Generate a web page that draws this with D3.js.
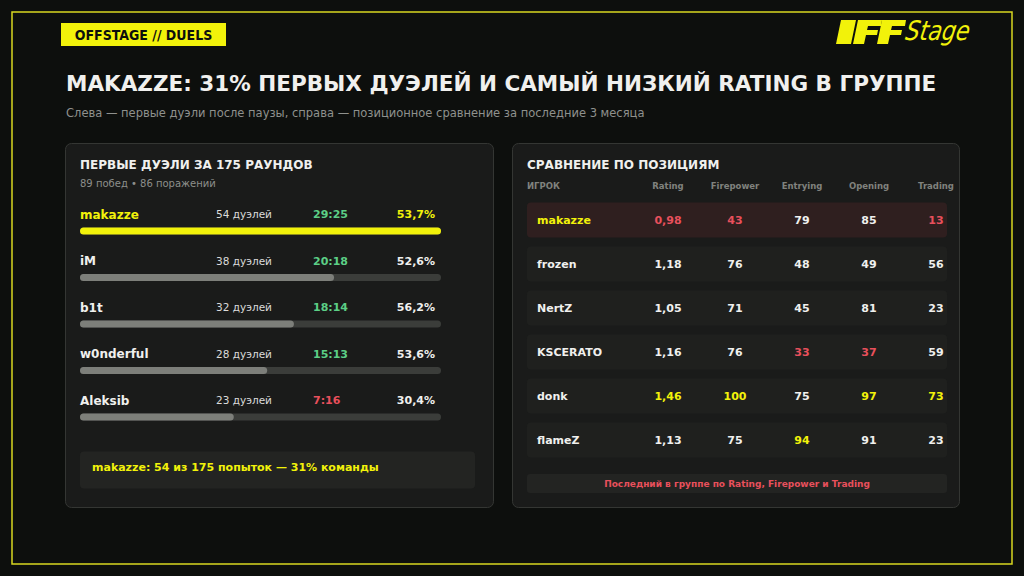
<!DOCTYPE html>
<html>
<head>
<meta charset="utf-8">
<script src="https://cdn.jsdelivr.net/npm/d3@7"></script>
<style>
  html, body { margin: 0; padding: 0; background: #0d0f0d; }
  svg { display: block; font-family: "DejaVu Sans", sans-serif; }
</style>
</head>
<body>
<div id="chart-area"></div>
<script>
// left panel: first duels
var duelPlayers = ["makazze", "iM", "b1t", "w0nderful", "Aleksib"];
var duelCounts = [54, 38, 32, 28, 23];
var duelWins = [29, 20, 18, 15, 7];
var duelLosses = [25, 18, 14, 13, 16];
var duelPct = ["53,7%", "52,6%", "56,2%", "53,6%", "30,4%"];

// right panel: position comparison
var posPlayers = ["makazze", "frozen", "NertZ", "KSCERATO", "donk", "flameZ"];
var metrics = ["Rating", "Firepower", "Entrying", "Opening", "Trading"];
var rating = [0.98, 1.18, 1.05, 1.16, 1.46, 1.13];
var firepower = [43, 76, 71, 76, 100, 75];
var entrying = [79, 48, 45, 33, 75, 94];
var opening = [85, 49, 81, 37, 97, 91];
var trading = [13, 56, 23, 59, 73, 23];

var YEL = "#f2f20a", RED = "#e8505c", GREEN = "#5ccf86", WHITE = "#f0f0ee", GREY = "#8d8f8b";

var width = 1024, height = 576;
var svg = d3.select("#chart-area").append("svg")
    .attr("width", width)
    .attr("height", height);

svg.append("rect").attr("width", width).attr("height", height).attr("fill", "#0d0f0d");
svg.append("rect")
    .attr("x", 12).attr("y", 12).attr("width", 1000).attr("height", 552)
    .attr("fill", "none").attr("stroke", "#d8d820").attr("stroke-width", 1.5);

// tag
svg.append("rect").attr("x", 61).attr("y", 23).attr("width", 165).attr("height", 23).attr("fill", YEL);
svg.append("text").attr("x", 143.5).attr("y", 39.5).attr("text-anchor", "middle")
    .attr("font-size", 14).attr("font-weight", "bold").attr("fill", "#0d0f0d")
    .style("font-family", "'DejaVu Sans Condensed', 'DejaVu Sans', sans-serif")
    .text("OFFSTAGE // DUELS");

// logo
var logo = svg.append("g").attr("transform", "translate(836, 20)");
logo.append("path").attr("d", "M5,0 L20,0 L15,24 L0,24 Z").attr("fill", YEL);
logo.append("path").attr("d", "M22,0 L46,0 L45,6 L32,6 L31,10 L42,10 L41,15 L30,15 L28,24 L17,24 Z").attr("fill", YEL);
logo.append("path").attr("d", "M46,0 L70,0 L69,6 L56,6 L55,10 L66,10 L65,15 L54,15 L52,24 L41,24 Z").attr("fill", YEL);
logo.append("text").attr("x", 72).attr("y", 20)
    .attr("font-size", 27).attr("font-style", "italic").attr("fill", YEL)
    .style("font-family", "'DejaVu Sans Condensed', 'DejaVu Sans', sans-serif")
    .attr("transform", "skewX(-10)").attr("textLength", 64)
    .attr("lengthAdjust", "spacingAndGlyphs")
    .text("Stage");

// title
svg.append("text").attr("x", 66).attr("y", 91)
    .attr("font-size", 21.5).attr("font-weight", "bold").attr("fill", WHITE)
    .text("MAKAZZE: 31% ПЕРВЫХ ДУЭЛЕЙ И САМЫЙ НИЗКИЙ RATING В ГРУППЕ");
svg.append("text").attr("x", 66).attr("y", 117)
    .attr("font-size", 11.5).attr("fill", "#8f918d")
    .text("Слева — первые дуэли после паузы, справа — позиционное сравнение за последние 3 месяца");

// panels
function panel(x, w) {
    svg.append("rect").attr("x", x).attr("y", 143.5).attr("width", w).attr("height", 364)
        .attr("rx", 6).attr("fill", "#1a1b1a").attr("stroke", "#343633").attr("stroke-width", 1);
}
panel(65.5, 428);
panel(512.5, 447);

// ---------- left panel ----------
var L = svg.append("g");
L.append("text").attr("x", 80).attr("y", 169).attr("font-size", 12).attr("font-weight", "bold")
    .attr("fill", WHITE).text("ПЕРВЫЕ ДУЭЛИ ЗА 175 РАУНДОВ");
L.append("text").attr("x", 80).attr("y", 187).attr("font-size", 10).attr("fill", GREY)
    .text("89 побед • 86 поражений");

var xBar = d3.scaleLinear().domain([0, d3.max(duelCounts)]).range([0, 361]);
var yRow = d3.scalePoint().domain(duelPlayers).range([214, 400]);

var rows = L.selectAll(".duel").data(duelPlayers).enter().append("g")
    .attr("class", "duel")
    .attr("transform", (d) => "translate(0," + yRow(d) + ")");

rows.append("text").attr("x", 80).attr("y", 4.5).attr("font-size", 12).attr("font-weight", "bold")
    .attr("fill", (d, i) => i === 0 ? YEL : WHITE).text((d) => d);
rows.append("text").attr("x", 216).attr("y", 4).attr("font-size", 10.5).attr("fill", "#dcdcda")
    .text((d, i) => duelCounts[i] + " дуэлей");
rows.append("text").attr("x", 313).attr("y", 4).attr("font-size", 11).attr("font-weight", "bold")
    .attr("fill", (d, i) => duelWins[i] >= duelLosses[i] ? GREEN : RED)
    .text((d, i) => duelWins[i] + ":" + duelLosses[i]);
rows.append("text").attr("x", 435).attr("y", 4).attr("text-anchor", "end").attr("font-size", 11)
    .attr("font-weight", "bold").attr("fill", (d, i) => i === 0 ? YEL : WHITE)
    .text((d, i) => duelPct[i]);
rows.append("rect").attr("x", 80).attr("y", 13.5).attr("width", xBar(d3.max(duelCounts)))
    .attr("height", 7).attr("rx", 3.5).attr("fill", "#3b3d3a");
rows.append("rect").attr("x", 80).attr("y", 13.5).attr("width", (d, i) => xBar(duelCounts[i]))
    .attr("height", 7).attr("rx", 3.5).attr("fill", (d, i) => i === 0 ? YEL : "#7d7f7a");

L.append("rect").attr("x", 80).attr("y", 451.5).attr("width", 395).attr("height", 37)
    .attr("rx", 4).attr("fill", "#232422");
L.append("text").attr("x", 92).attr("y", 471).attr("font-size", 11).attr("font-weight", "bold")
    .attr("fill", YEL).text("makazze: 54 из 175 попыток — 31% команды");

// ---------- right panel ----------
var R = svg.append("g");
R.append("text").attr("x", 527).attr("y", 169).attr("font-size", 12).attr("font-weight", "bold")
    .attr("fill", WHITE).text("СРАВНЕНИЕ ПО ПОЗИЦИЯМ");

var xCol = d3.scalePoint().domain(metrics).range([668, 936]);
var yPos = d3.scalePoint().domain(posPlayers).range([219.5, 439.5]);

R.append("text").attr("x", 527).attr("y", 189).attr("font-size", 8.5).attr("font-weight", "bold")
    .attr("fill", "#80827e").text("ИГРОК");
R.selectAll(".colhead").data(metrics).enter().append("text")
    .attr("class", "colhead")
    .attr("x", (d) => xCol(d)).attr("y", 189).attr("text-anchor", "middle")
    .attr("font-size", 8.5).attr("font-weight", "bold").attr("fill", "#80827e")
    .text((d) => d);

var cols = [rating, firepower, entrying, opening, trading];

var prow = R.selectAll(".prow").data(posPlayers).enter().append("g")
    .attr("class", "prow")
    .attr("transform", (d) => "translate(0," + yPos(d) + ")");
prow.append("rect").attr("x", 527).attr("y", -17).attr("width", 420).attr("height", 35)
    .attr("rx", 4).attr("fill", (d, i) => i === 0 ? "#2f1f1f" : "#1f201e");
prow.append("text").attr("x", 537).attr("y", 4).attr("font-size", 11).attr("font-weight", "bold")
    .attr("fill", (d, i) => i === 0 ? YEL : WHITE).text((d) => d);

metrics.forEach((m, j) => {
    var vals = cols[j];
    var lo = d3.min(vals), hi = d3.max(vals);
    prow.append("text")
        .attr("x", xCol(m)).attr("y", 4).attr("text-anchor", "middle")
        .attr("font-size", 11).attr("font-weight", "bold")
        .attr("fill", (d, i) => vals[i] === lo ? RED : vals[i] === hi ? YEL : WHITE)
        .text((d, i) => j === 0 ? d3.format(".2f")(vals[i]).replace(".", ",") : vals[i]);
});

R.append("rect").attr("x", 527).attr("y", 474).attr("width", 420).attr("height", 19)
    .attr("rx", 3).attr("fill", "#232422");
R.append("text").attr("x", 737).attr("y", 486.5).attr("text-anchor", "middle")
    .attr("font-size", 9).attr("font-weight", "bold").attr("fill", RED)
    .text("Последний в группе по Rating, Firepower и Trading");
</script>
</body>
</html>
